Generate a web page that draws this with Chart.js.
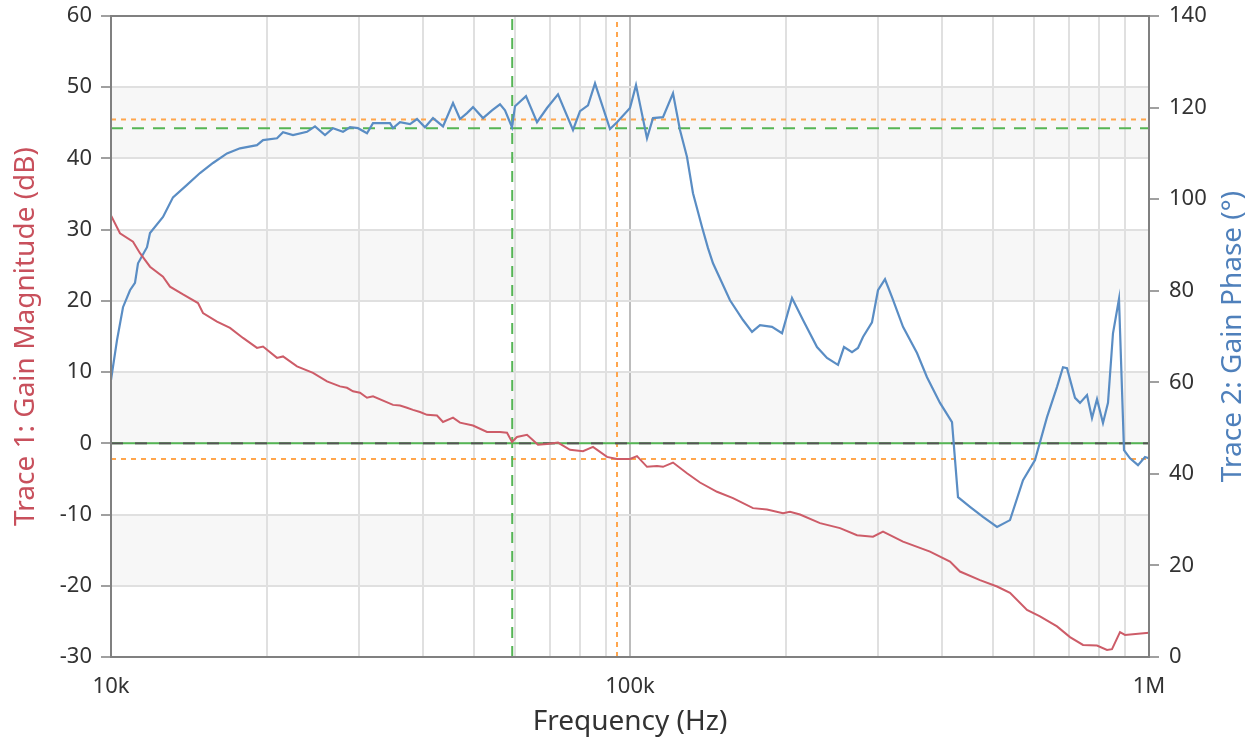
<!DOCTYPE html>
<html>
<head>
<meta charset="utf-8">
<script src="https://cdn.jsdelivr.net/npm/chart.js@4.4.1/dist/chart.umd.min.js"></script>
<style>
  html, body { margin: 0; padding: 0; background: #fff; }
  #wrap { width: 1259px; height: 744px; }
</style>
</head>
<body>
<div id="wrap"><canvas id="bode"></canvas></div>
<script>
// Trace 1: gain magnitude (dB) vs frequency (Hz)
const magFreq = [10000, 10407, 11025, 11373, 11889, 12595, 12992, 13764, 14711, 15040, 16004, 16954, 17961, 19112, 19630, 20887, 21450, 22824, 24503, 26073, 27621, 28492, 29261, 30183, 31135, 31975, 34944, 36046, 37183, 38186, 39391, 40633, 42477, 43622, 45602, 47040, 49833, 53025, 56174, 57946, 59246, 60574, 63322, 66490, 69198, 72659, 76632, 81182, 84865, 90298, 94395, 100000, 103155, 107835, 112725, 115767, 121019, 128774, 136417, 147110, 157930, 172580, 183640, 197150, 203370, 212600, 232320, 253880, 273770, 293900, 307240, 335770, 378510, 413600, 432370, 472480, 509550, 539740, 582020, 616530, 664900, 704340, 746180, 793990, 830020, 848650, 879250, 898990, 1000000];
const magDb = [32.0, 29.5, 28.3, 26.7, 24.8, 23.4, 22.0, 20.9, 19.7, 18.3, 17.1, 16.2, 14.8, 13.4, 13.6, 12.0, 12.2, 10.8, 9.9, 8.7, 8.0, 7.8, 7.3, 7.1, 6.4, 6.6, 5.4, 5.3, 5.0, 4.7, 4.4, 4.0, 3.9, 3.0, 3.6, 2.9, 2.5, 1.6, 1.6, 1.5, 0.2, 0.9, 1.2, -0.2, -0.1, 0.1, -0.9, -1.1, -0.5, -1.9, -2.2, -2.2, -1.8, -3.3, -3.2, -3.3, -2.7, -4.2, -5.5, -6.8, -7.7, -9.1, -9.3, -9.8, -9.6, -10.0, -11.2, -11.9, -12.9, -13.1, -12.4, -13.8, -15.2, -16.6, -18.0, -19.2, -20.1, -21.0, -23.4, -24.3, -25.7, -27.2, -28.3, -28.4, -29.0, -28.9, -26.5, -26.9, -26.6];

// Trace 2: gain phase (deg) vs frequency (Hz)
const phaseFreq = [10000, 10270, 10547, 10880, 11123, 11273, 11732, 11889, 12595, 13166, 14010, 14841, 15723, 16731, 17724, 19112, 19630, 20887, 21450, 22422, 23858, 24721, 25843, 26776, 27991, 28874, 29917, 31135, 31975, 34482, 34944, 36046, 37684, 38872, 40274, 41729, 43622, 45602, 47040, 48522, 49833, 52093, 54215, 56174, 57434, 59246, 60040, 63040, 66196, 69198, 72659, 77657, 80107, 83002, 85619, 91505, 94395, 100000, 102700, 107835, 110740, 115767, 121019, 124830, 128774, 132250, 137640, 141350, 144520, 155840, 165090, 171820, 178020, 187750, 196300, 205180, 215440, 229250, 239650, 251630, 258430, 267760, 274980, 281150, 292610, 300500, 309980, 319750, 335770, 357270, 373480, 395650, 417290, 428550, 451980, 478770, 509550, 539740, 571800, 603050, 636030, 664900, 682820, 695030, 720160, 736310, 759540, 776570, 793990, 815380, 833660, 852340, 875340, 895000, 919120, 952330, 982360, 1000000];
const phaseDeg = [60.5, 69.2, 76.4, 80.1, 81.7, 86.0, 89.5, 92.6, 96.1, 100.4, 103.1, 105.7, 107.9, 110.0, 111.1, 111.8, 112.9, 113.3, 114.6, 114.0, 114.7, 115.9, 114.0, 115.5, 114.7, 115.7, 115.5, 114.4, 116.6, 116.6, 115.5, 116.8, 116.4, 117.5, 115.7, 117.7, 115.9, 121.0, 117.5, 118.8, 120.1, 117.7, 119.4, 120.7, 119.4, 115.7, 120.3, 122.5, 116.8, 119.9, 122.9, 115.1, 119.2, 120.5, 125.3, 115.3, 116.8, 119.9, 124.9, 113.3, 117.7, 117.9, 123.1, 115.1, 109.2, 101.3, 93.9, 89.3, 86.0, 77.9, 73.6, 71.0, 72.5, 72.1, 70.7, 78.4, 73.6, 67.7, 65.3, 63.8, 67.7, 66.6, 67.5, 69.9, 73.1, 80.1, 82.5, 78.6, 72.1, 66.4, 61.1, 55.5, 51.3, 34.9, 32.8, 30.6, 28.4, 29.9, 38.6, 43.0, 52.4, 59.0, 63.3, 63.1, 56.6, 55.5, 57.2, 52.2, 56.3, 51.1, 55.5, 70.7, 78.2, 45.2, 43.4, 41.9, 43.7, 43.4];

// cursor / margin markers
const greenFreq = 59300;     // gain crossover
const greenDeg = 115.5;      // phase at crossover
const orangeFreq = 94400;
const orangeDeg = 117.4;
const orangeDb = -2.2;

const xTicks = [10000, 20000, 30000, 40000, 50000, 60000, 70000, 80000, 90000,
  100000, 200000, 300000, 400000, 500000, 600000, 700000, 800000, 900000, 1000000];
const xLabels = { 10000: '10k', 100000: '100k', 1000000: '1M' };
const fMin = 10000, fMax = 1000000;

const pairs = (xs, ys) => xs.map((x, i) => ({ x: x, y: ys[i] }));

const FONT = '"Noto Sans", "Open Sans", sans-serif';
const RED = '#cd5c68';
const BLUE = '#5a8dc4';
const GREEN = '#55b555';
const ORANGE = '#ffa64d';

// zebra bands behind the grid
const bands = {
  id: 'bands',
  beforeDraw(chart) {
    const { ctx, chartArea } = chart;
    const ys = chart.scales.y;
    const t = ys.ticks.map(k => k.value);
    ctx.save();
    ctx.fillStyle = '#f7f7f7';
    for (let i = 1; i < t.length - 1; i += 2) {
      const a = ys.getPixelForValue(t[i]);
      const b = ys.getPixelForValue(t[i + 1]);
      ctx.fillRect(chartArea.left, b, chartArea.right - chartArea.left, a - b);
    }
    ctx.restore();
  }
};

// plot frame + right axis title (reads bottom to top)
const frame = {
  id: 'frame',
  afterDraw(chart) {
    const { ctx, chartArea } = chart;
    ctx.save();
    ctx.strokeStyle = '#808080';
    ctx.lineWidth = 2;
    ctx.strokeRect(chartArea.left, chartArea.top, chartArea.right - chartArea.left, chartArea.bottom - chartArea.top);
    ctx.translate(chart.width - 26, (chartArea.top + chartArea.bottom) / 2);
    ctx.rotate(-Math.PI / 2);
    ctx.fillStyle = '#4f80bb';
    ctx.font = '28px ' + FONT;
    ctx.textAlign = 'center';
    ctx.textBaseline = 'middle';
    ctx.fillText('Trace 2: Gain Phase (°)', 0, 0);
    ctx.restore();
  }
};

const vline = (f, color, dash) => ({
  data: [{ x: f, y: -30 }, { x: f, y: 60 }], yAxisID: 'y',
  borderColor: color, borderWidth: 2, borderDash: dash, pointRadius: 0, order: 2
});
const hline = (v, axis, color, dash, order) => ({
  data: [{ x: fMin, y: v }, { x: fMax, y: v }], yAxisID: axis,
  borderColor: color, borderWidth: 2, borderDash: dash, pointRadius: 0, order: order || 2
});

// fixed side widths, no extra label overflow padding
const fitSide = w => s => { s.width = w; s.paddingTop = 0; s.paddingBottom = 0; };

new Chart(document.getElementById('bode'), {
  type: 'line',
  data: {
    datasets: [
      { label: 'Trace 1', data: pairs(magFreq, magDb), yAxisID: 'y', borderColor: RED, borderWidth: 2, pointRadius: 0, tension: 0, order: 0 },
      { label: 'Trace 2', data: pairs(phaseFreq, phaseDeg), yAxisID: 'y1', borderColor: BLUE, borderWidth: 2.2, pointRadius: 0, tension: 0, order: 0 },
      hline(0, 'y', '#555555', [12, 12], 1),
      hline(0, 'y', GREEN, [], 2),
      vline(greenFreq, GREEN, [11, 8]),
      hline(greenDeg, 'y1', GREEN, [12, 9]),
      vline(orangeFreq, ORANGE, [5, 5]),
      hline(orangeDeg, 'y1', ORANGE, [5, 5]),
      hline(orangeDb, 'y', ORANGE, [5, 5])
    ]
  },
  options: {
    responsive: true,
    maintainAspectRatio: false,
    animation: false,
    layout: { padding: { top: 16, left: 0, right: 0, bottom: 0 } },
    plugins: { legend: { display: false }, tooltip: { enabled: false } },
    scales: {
      x: {
        type: 'logarithmic',
        min: fMin,
        max: fMax,
        afterBuildTicks: s => { s.ticks = xTicks.map(v => ({ value: v })); },
        afterFit: s => { s.height = 87; },
        ticks: {
          autoSkip: false, maxRotation: 0, padding: 17,
          color: '#333', font: { family: FONT, size: 22 },
          callback: v => xLabels[v] || ''
        },
        grid: {
          drawTicks: false,
          color: c => (c.tick && c.tick.value === 100000) ? '#bcbcbc' : '#e0e0e0',
          lineWidth: 2
        },
        border: { display: false },
        title: { display: true, text: 'Frequency (Hz)', color: '#333', font: { family: FONT, size: 28 }, padding: { top: 0, bottom: 5 } }
      },
      y: {
        position: 'left',
        min: -30,
        max: 60,
        afterFit: fitSide(111),
        ticks: { stepSize: 10, padding: 9, color: '#333', font: { family: FONT, size: 22 } },
        grid: { color: '#e0e0e0', lineWidth: 2, tickLength: 10, tickColor: '#a0a0a0' },
        border: { display: false },
        title: { display: true, text: 'Trace 1: Gain Magnitude (dB)', color: '#c8505c', font: { family: FONT, size: 28 }, padding: { top: 9, bottom: 0 } }
      },
      y1: {
        position: 'right',
        min: 0,
        max: 140,
        afterFit: fitSide(110),
        ticks: { stepSize: 20, padding: 10, color: '#333', font: { family: FONT, size: 22 } },
        grid: { drawOnChartArea: false, tickLength: 10, tickColor: '#a0a0a0', lineWidth: 2 },
        border: { display: false }
      }
    }
  },
  plugins: [bands, frame]
});
</script>
</body>
</html>
